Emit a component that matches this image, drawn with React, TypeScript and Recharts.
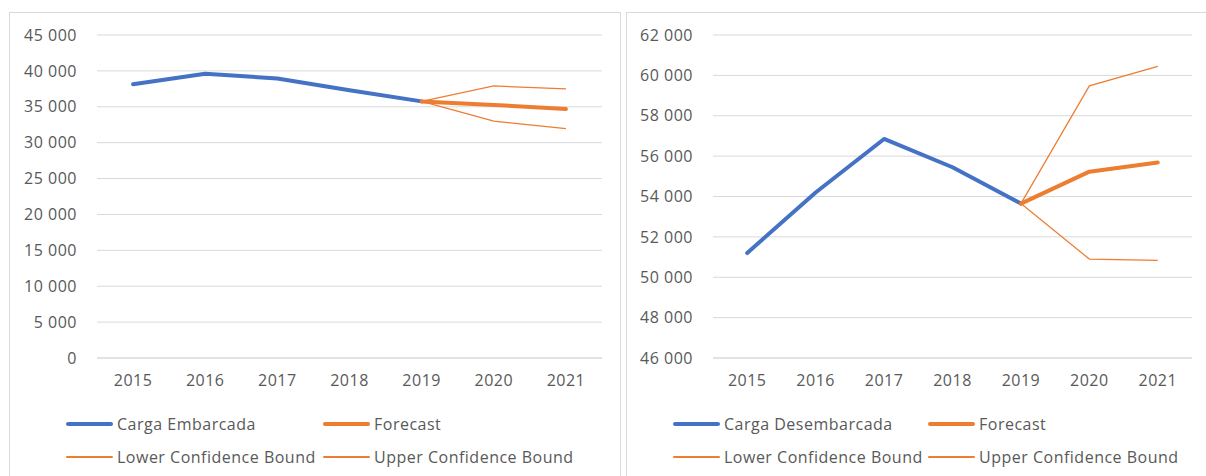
import { LineChart, Line, XAxis, YAxis, CartesianGrid } from 'recharts';

const YEARS = ['2015', '2016', '2017', '2018', '2019', '2020', '2021'];

// Left panel – Carga Embarcada
const EMB_ACTUAL = [38150, 39600, 38950, 37300, 35750, null, null];
const EMB_FORECAST = [null, null, null, null, 35750, 35250, 34700];
const EMB_LOWER = [null, null, null, null, 35750, 33000, 31950];
const EMB_UPPER = [null, null, null, null, 35750, 37900, 37500];
const EMB_TICKS = [0, 5000, 10000, 15000, 20000, 25000, 30000, 35000, 40000, 45000];

// Right panel – Carga Desembarcada
const DES_ACTUAL = [51200, 54200, 56850, 55450, 53650, null, null];
const DES_FORECAST = [null, null, null, null, 53650, 55230, 55680];
const DES_LOWER = [null, null, null, null, 53650, 50900, 50830];
const DES_UPPER = [null, null, null, null, 53650, 59480, 60450];
const DES_TICKS = [46000, 48000, 50000, 52000, 54000, 56000, 58000, 60000, 62000];

const BLUE = '#4472C4';
const ORANGE = '#ED7D31';
const GRID = '#d9d9d9';
const TEXT = '#595959';
const FONT = '"Open Sans", sans-serif';
const FONT_SIZE = 16;
const SPACING = 0.5;

function buildRows(actual: (number | null)[], forecast: (number | null)[], lower: (number | null)[], upper: (number | null)[]) {
  return YEARS.map((year, i) => ({
    year,
    actual: actual[i],
    forecast: forecast[i],
    lower: lower[i],
    upper: upper[i],
  }));
}

const fmt = (v: number) => String(v).replace(/\B(?=(\d{3})+(?!\d))/g, ' ');

function LegendItem({ label, color, thick, x, y }: { label: string; color: string; thick: boolean; x: number; y: number }) {
  return (
    <div style={{ position: 'absolute', left: x, top: y - 10, height: 20, display: 'flex', alignItems: 'center', whiteSpace: 'nowrap' }}>
      <span style={{ width: 47, height: thick ? 4 : 1.5, background: color, borderRadius: 2, marginRight: 4 }} />
      <span style={{ fontSize: FONT_SIZE, letterSpacing: SPACING, color: TEXT, fontFamily: FONT }}>{label}</span>
    </div>
  );
}

interface PanelProps {
  left: number;
  width: number;
  plotLeft: number;
  plotRight: number;
  rows: ReturnType<typeof buildRows>;
  ticks: number[];
  actualLabel: string;
  legendX: [number, number];
}

function Panel({ left, width, plotLeft, plotRight, rows, ticks, actualLabel, legendX }: PanelProps) {
  const top = 12;
  const height = 476 - top + 20;
  const band = (plotRight - plotLeft) / YEARS.length;
  const tickStyle = { fill: TEXT, fontSize: FONT_SIZE, fontFamily: FONT, letterSpacing: SPACING };
  return (
    <div style={{ position: 'absolute', left, top, width, height, border: `1px solid ${GRID}`, boxSizing: 'border-box', background: '#fff' }}>
      <div style={{ position: 'absolute', left: -1, top: -1 }}>
        <LineChart
          width={width}
          height={464}
          data={rows}
          margin={{ top: 23, right: width - (plotRight - left), left: 0, bottom: 88 }}
        >
          <CartesianGrid vertical={false} stroke={GRID} strokeWidth={1} />
          <XAxis
            dataKey="year"
            axisLine={{ stroke: GRID }}
            tickLine={false}
            tickMargin={11}
            height={30}
            padding={{ left: band / 2, right: band / 2 }}
            interval={0}
            tick={tickStyle}
          />
          <YAxis
            domain={[ticks[0], ticks[ticks.length - 1]]}
            ticks={ticks}
            tickFormatter={fmt}
            axisLine={false}
            tickLine={false}
            tickMargin={14}
            width={plotLeft - left}
            interval={0}
            tick={tickStyle}
          />
          <Line dataKey="actual" stroke={BLUE} strokeWidth={4} dot={false} isAnimationActive={false} strokeLinecap="round" strokeLinejoin="round" />
          <Line dataKey="forecast" stroke={ORANGE} strokeWidth={4} dot={false} isAnimationActive={false} strokeLinecap="round" strokeLinejoin="round" />
          <Line dataKey="lower" stroke={ORANGE} strokeWidth={1.25} dot={false} isAnimationActive={false} />
          <Line dataKey="upper" stroke={ORANGE} strokeWidth={1.25} dot={false} isAnimationActive={false} />
        </LineChart>
      </div>
      <LegendItem label={actualLabel} color={BLUE} thick x={legendX[0] - left} y={423 - top} />
      <LegendItem label="Forecast" color={ORANGE} thick x={legendX[1] - left} y={423 - top} />
      <LegendItem label="Lower Confidence Bound" color={ORANGE} thick={false} x={legendX[0] - left} y={456 - top} />
      <LegendItem label="Upper Confidence Bound" color={ORANGE} thick={false} x={legendX[1] - left} y={456 - top} />
    </div>
  );
}

export default function App() {
  const embRows = buildRows(EMB_ACTUAL, EMB_FORECAST, EMB_LOWER, EMB_UPPER);
  const desRows = buildRows(DES_ACTUAL, DES_FORECAST, DES_LOWER, DES_UPPER);
  return (
    <div style={{ position: 'fixed', left: 0, top: 0, width: 1206, height: 476, overflow: 'hidden', background: '#fff' }}>
      <Panel left={9} width={612} plotLeft={97} plotRight={602} rows={embRows} ticks={EMB_TICKS} actualLabel="Carga Embarcada" legendX={[65, 322]} />
      <Panel left={626} width={582} plotLeft={713} plotRight={1192} rows={desRows} ticks={DES_TICKS} actualLabel="Carga Desembarcada" legendX={[672, 927]} />
    </div>
  );
}
